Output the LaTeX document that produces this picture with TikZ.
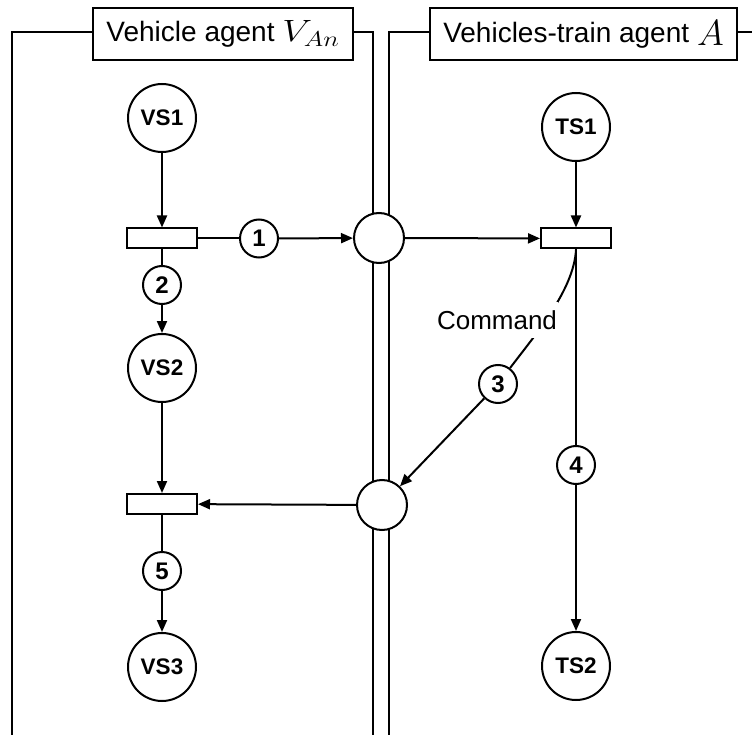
\RequirePackage{fix-cm}
\documentclass[tikz,border=0pt]{standalone}
\usepackage{graphicx}
\usepackage{fontspec}
\setmainfont{Liberation Sans}
\usetikzlibrary{arrows.meta}
\begin{document}
\begin{tikzpicture}[x=1pt,y=-1pt,
  state/.style={circle,draw,line width=2pt,fill=white,minimum size=68pt,inner sep=0pt,font=\fontsize{22.5}{24}\selectfont\bfseries},
  place/.style={circle,draw,line width=2pt,fill=white,minimum size=50pt,inner sep=0pt},
  trans/.style={rectangle,draw,line width=2pt,fill=white,minimum width=70pt,minimum height=20pt,inner sep=0pt},
  num/.style={circle,draw,line width=2pt,fill=white,minimum size=38pt,inner sep=0pt,font=\fontsize{24}{26}\selectfont\bfseries},
  title/.style={rectangle,draw,line width=1.3pt,fill=white,minimum height=52pt,inner sep=0pt,font=\fontsize{28}{30}\selectfont},
  frame/.style={line width=1.3pt},
  arr/.style={line width=2pt,-{Triangle[length=12pt,width=10pt]}},
  ln/.style={line width=2pt}]
\useasboundingbox (0,0) rectangle (752,735);
% titles
\node[title,minimum width=260pt] (tl) at (223,34) {Vehicle agent \scalebox{1.35}[1.1]{$V_{An}$}};
\node[title,minimum width=307pt] (tr) at (583.5,34) {Vehicles-train agent \raisebox{-3pt}{\scalebox{1.3}{$A$}}};
\coordinate (lb) at (12,735);
\coordinate (lt) at (12,32);
\coordinate (mlt) at (373,32);
\coordinate (mlb) at (373,735);
\coordinate (mrt) at (389,32);
\coordinate (mrb) at (389,735);
\coordinate (re) at (752,32);
\draw[frame] (lb) -- (lt) -- (lt -| tl.west);
\draw[frame] (mlt -| tl.east) -- (mlt) -- (mlb);
\draw[frame] (mrb) -- (mrt) -- (mrt -| tr.west);
\draw[frame] (re -| tr.east) -- (re);
% nodes
\node[state] (vs1) at (162,118) {VS1};
\node[trans] (t1) at (162,238.5) {};
\node[place] (p1) at (379,238) {};
\node[state] (ts1) at (576,127) {TS1};
\node[trans] (t2) at (576,238.5) {};
\node[num] (n1) at (259,238.5) {1};
\node[num] (n2) at (162,285) {2};
\node[state] (vs2) at (162,368) {VS2};
\node[trans] (t3) at (162,504) {};
\node[place] (p2) at (382,505) {};
\node[num] (n5) at (162,571) {5};
\node[state] (vs3) at (162,667) {VS3};
\node[num] (n3) at (498,384) {3};
\node[num] (n4) at (576,465) {4};
\node[state] (ts2) at (576,666) {TS2};
% connectors
\draw[arr] (vs1) -- (t1);
\draw[ln] (t1) -- (n1);
\draw[arr] (n1) -- (p1);
\draw[arr] (p1) -- (t2);
\draw[arr] (ts1) -- (t2);
\draw[ln] (t1) -- (n2);
\draw[arr] (n2) -- (vs2);
\draw[arr] (vs2) -- (t3);
\draw[arr] (p2) -- (t3);
\draw[ln] (t3) -- (n5);
\draw[arr] (n5) -- (vs3);
\draw[ln] (t2) -- (n4);
\draw[arr] (n4) -- (ts2);
\draw[ln] (t2.south) .. controls (574,290) and (535,335) .. (n3);
\draw[arr] (n3) -- (p2);
\node[fill=white,inner xsep=1pt,inner ysep=8pt,font=\fontsize{26}{28}\selectfont] (cmd) at (497,320) {Command};
\end{tikzpicture}
\end{document}
